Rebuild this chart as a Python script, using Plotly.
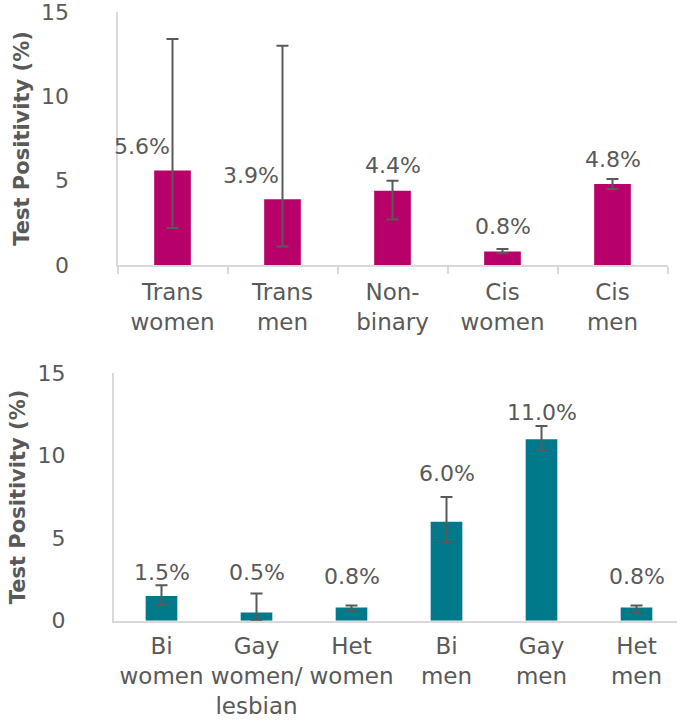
import plotly.graph_objects as go

# Test positivity by gender identity
gender_cats = ["Trans<br>women", "Trans<br>men", "Non-<br>binary", "Cis<br>women", "Cis<br>men"]
gender_pct = [5.6, 3.9, 4.4, 0.8, 4.8]
gender_ci_low = [2.2, 1.1, 2.7, 0.7, 4.5]
gender_ci_high = [13.4, 13.0, 5.0, 0.95, 5.1]

# Test positivity by sexual orientation
orient_cats = ["Bi<br>women", "Gay<br>women/<br>lesbian", "Het<br>women", "Bi<br>men", "Gay<br>men", "Het<br>men"]
orient_pct = [1.5, 0.5, 0.8, 6.0, 11.0, 0.8]
orient_ci_low = [0.95, 0.05, 0.6, 4.75, 10.35, 0.5]
orient_ci_high = [2.15, 1.65, 0.92, 7.5, 11.8, 0.92]

y_ticks = [0, 5, 10, 15]

# label placement (pixels above the bar top, horizontal nudge)
gender_label_dy = [24, 24, 25, 25, 25]
gender_label_dx = [-31, -32, 0, 0, 0]
orient_label_dy = [23.5, 40, 31.5, 48, 27, 31.5]

MAGENTA = "#B8006B"
TEAL = "#007A8A"
TEXT = "#595959"
AXIS = "#D9D9D9"
FONT = "DejaVu Sans"

fig = go.Figure()


def add_panel(cats, pct, lo, hi, color, xa, ya):
    fig.add_trace(go.Bar(
        x=cats, y=pct, xaxis=xa, yaxis=ya,
        marker=dict(color=color, line=dict(width=0)),
        error_y=dict(
            type="data", symmetric=False,
            array=[h - v for h, v in zip(hi, pct)],
            arrayminus=[v - l for v, l in zip(pct, lo)],
            color=TEXT, thickness=2, width=6,
        ),
        showlegend=False, hoverinfo="x+y",
    ))


add_panel(gender_cats, gender_pct, gender_ci_low, gender_ci_high, MAGENTA, "x", "y")
add_panel(orient_cats, orient_pct, orient_ci_low, orient_ci_high, TEAL, "x2", "y2")

annotations = []
for c, v, dy, dx in zip(gender_cats, gender_pct, gender_label_dy, gender_label_dx):
    annotations.append(dict(x=c, y=v, xref="x", yref="y", text=f"{v:.1f}%",
                            showarrow=False, yanchor="middle", xanchor="center",
                            yshift=dy, xshift=dx,
                            font=dict(family=FONT, size=22, color=TEXT)))
for c, v, dy in zip(orient_cats, orient_pct, orient_label_dy):
    annotations.append(dict(x=c, y=v, xref="x2", yref="y2", text=f"{v:.1f}%",
                            showarrow=False, yanchor="middle", xanchor="center",
                            yshift=dy,
                            font=dict(family=FONT, size=22, color=TEXT)))

yaxis_common = dict(
    range=[0, 15], tickvals=y_ticks, showgrid=False, zeroline=False,
    showline=True, linecolor=AXIS, linewidth=2, ticks="",
    ticklabelstandoff=42, automargin=False, ticklabeloverflow="allow",
    tickfont=dict(family=FONT, size=22, color=TEXT),
    title=dict(text="Test Positivity (%)", standoff=6,
               font=dict(family=FONT, size=21, color=TEXT, weight="bold")),
    fixedrange=True,
)

fig.update_layout(
    width=677, height=724,
    margin=dict(l=0, r=0, t=0, b=0, autoexpand=False),
    paper_bgcolor="white", plot_bgcolor="white",
    bargap=2 / 3,
    font=dict(family=FONT, color=TEXT),
    annotations=annotations,
    xaxis=dict(
        domain=[117.5 / 677, 667.5 / 677], anchor="y",
        range=[-0.5, 4.5], showgrid=False, showline=True,
        linecolor=AXIS, linewidth=2, automargin=False,
        ticks="outside", tickson="boundaries", ticklen=7, tickwidth=2, tickcolor=AXIS,
        ticklabelstandoff=5, ticklabeloverflow="allow",
        tickfont=dict(family=FONT, size=23, color=TEXT),
        fixedrange=True,
    ),
    yaxis=dict(domain=[1 - 265 / 724, 1 - 12 / 724], anchor="x", **yaxis_common),
    xaxis2=dict(
        domain=[114 / 677, 1.0], anchor="y2",
        range=[-0.5, 5.5 - 7 / 95], showgrid=False, showline=True,
        linecolor=AXIS, linewidth=2, ticks="", automargin=False,
        ticklabelstandoff=4, ticklabeloverflow="allow",
        tickfont=dict(family=FONT, size=23, color=TEXT),
        fixedrange=True,
    ),
    yaxis2=dict(domain=[1 - 620.7 / 724, 1 - 373.3 / 724], anchor="x2", **yaxis_common),
)

fig.write_html("out.html")
